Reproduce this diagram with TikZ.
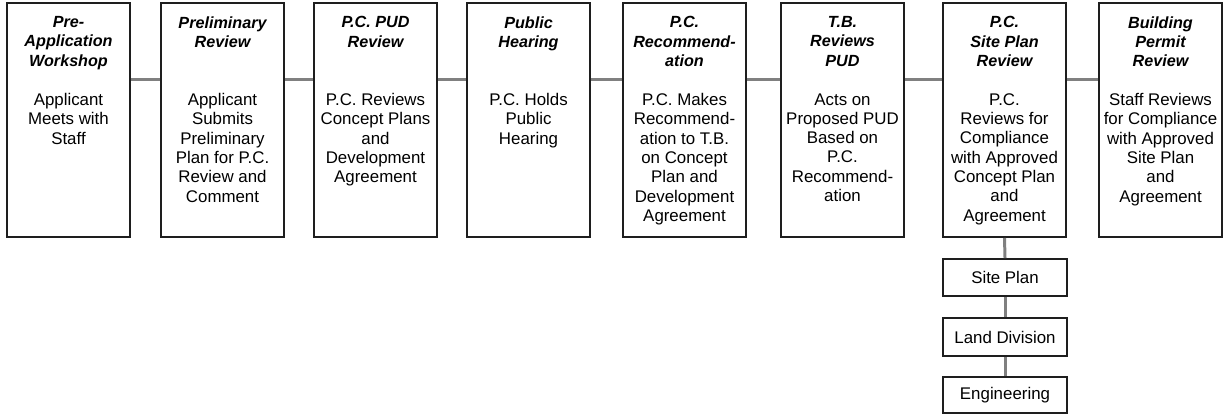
\documentclass[tikz,border=0pt]{standalone}
\usepackage{fontspec}
\setmainfont{Liberation Sans}
\usetikzlibrary{positioning}
\definecolor{linkgray}{RGB}{128,128,128}
\definecolor{edge}{RGB}{30,30,30}

\begin{document}
\begin{tikzpicture}[
  node distance=0.3cm,
  stage/.style={rectangle,draw=edge,line width=1.1pt,fill=white,
                minimum width=2.46cm,minimum height=4.68cm,inner sep=0pt},
  head/.style={align=center,inner sep=0pt,anchor=north,
               font=\fontsize{9.2}{11}\selectfont\bfseries\itshape},
  body/.style={align=center,inner sep=0pt,anchor=north,
               font=\fontsize{9.6}{11}\selectfont},
  sub/.style={rectangle,draw=edge,line width=1.1pt,fill=white,minimum width=2.48cm,
              minimum height=0.74cm,inner sep=0pt,font=\fontsize{9.6}{11}\selectfont},
  link/.style={draw=linkgray,line width=1.7pt}
]
\useasboundingbox[fill=white] (0,0) rectangle (24.48,-8.30);

% stages along the top
\node[stage] (s1) at (1.37,-2.4) {};
\node[stage] (s2) at (4.45,-2.4) {};
\node[stage] (s3) at (7.51,-2.4) {};
\node[stage] (s4) at (10.57,-2.4) {};
\node[stage] (s5) at (13.69,-2.4) {};
\node[stage] (s6) at (16.85,-2.4) {};
\node[stage] (s7) at (20.09,-2.4) {};
\node[stage] (s8) at (23.21,-2.4) {};

% titles
\node[head] (h1) at ([yshift=-0.28cm]s1.north) {Pre-\\Application\\Workshop};
\node[head] (h2) at ([yshift=-0.28cm]s2.north) {Preliminary\\Review};
\node[head] (h3) at ([yshift=-0.28cm]s3.north) {P.C. PUD\\Review};
\node[head] (h4) at ([yshift=-0.28cm]s4.north) {Public\\Hearing};
\node[head] (h5) at ([yshift=-0.28cm]s5.north) {P.C.\\Recommend-\\ation};
\node[head] (h6) at ([yshift=-0.28cm]s6.north) {T.B.\\Reviews\\PUD};
\node[head] (h7) at ([yshift=-0.28cm]s7.north) {P.C.\\Site Plan\\Review};
\node[head] (h8) at ([yshift=-0.28cm]s8.north) {Building\\Permit\\Review};

% descriptions
\node[body] (b1) at ([yshift=-1.82cm]s1.north) {Applicant\\Meets with\\Staff};
\node[body] (b2) at ([yshift=-1.82cm]s2.north) {Applicant\\Submits\\Preliminary\\Plan for P.C.\\Review and\\Comment};
\node[body] (b3) at ([yshift=-1.82cm]s3.north) {P.C. Reviews\\Concept Plans\\and\\Development\\Agreement};
\node[body] (b4) at ([yshift=-1.82cm]s4.north) {P.C. Holds\\Public\\Hearing};
\node[body] (b5) at ([yshift=-1.82cm]s5.north) {P.C. Makes\\Recommend-\\ation to T.B.\\on Concept\\Plan and\\Development\\Agreement};
\node[body] (b6) at ([yshift=-1.82cm]s6.north) {Acts on\\Proposed PUD\\Based on\\P.C.\\Recommend-\\ation};
\node[body] (b7) at ([yshift=-1.82cm]s7.north) {P.C.\\Reviews for\\Compliance\\with Approved\\Concept Plan\\and\\Agreement};
\node[body] (b8) at ([yshift=-1.82cm]s8.north) {Staff Reviews\\for Compliance\\with Approved\\Site Plan\\and\\Agreement};

% site plan branch
\node[sub] (sp) at (20.10,-5.55) {Site Plan};
\node[sub,minimum height=0.76cm] (ld) at (20.10,-6.74) {Land Division};
\node[sub,minimum height=0.72cm] (en) at (20.10,-7.90) {Engineering};

% connectors
\draw[link] ([yshift=0.82cm]s1.east) -- ([yshift=0.82cm]s2.west);
\draw[link] ([yshift=0.82cm]s2.east) -- ([yshift=0.82cm]s3.west);
\draw[link] ([yshift=0.82cm]s3.east) -- ([yshift=0.82cm]s4.west);
\draw[link] ([yshift=0.82cm]s4.east) -- ([yshift=0.82cm]s5.west);
\draw[link] ([yshift=0.82cm]s5.east) -- ([yshift=0.82cm]s6.west);
\draw[link] ([yshift=0.82cm]s6.east) -- ([yshift=0.82cm]s7.west);
\draw[link] ([yshift=0.82cm]s7.east) -- ([yshift=0.82cm]s8.west);
\draw[link] (s7.south) -- (sp.north);
\draw[link] (sp.south) -- (ld.north);
\draw[link] (ld.south) -- (en.north);
\end{tikzpicture}
\end{document}
